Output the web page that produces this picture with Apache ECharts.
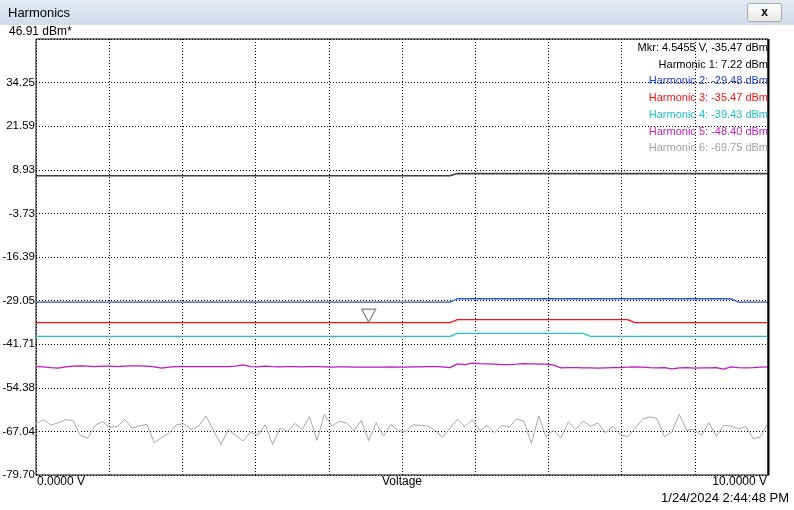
<!DOCTYPE html>
<html><head><meta charset="utf-8">
<script src="https://cdn.jsdelivr.net/npm/echarts@6/dist/echarts.min.js"></script>
<style>html,body{margin:0;padding:0;background:#fff}#c{width:794px;height:510px}</style>
</head><body><div id="c"></div><script>
// ---- data ----
const yTickLabels = ['-79.70','-67.04','-54.38','-41.71','-29.05','-16.39','-3.73','8.93','21.59','34.25','46.91 dBm*'];
const xTickLabels = ['0.0000 V', '10.0000 V'];
const xAxisName = 'Voltage';
const windowTitle = 'Harmonics';
const timestamp = '1/24/2024 2:44:48 PM';
const legendTexts = ['Mkr: 4.5455 V, -35.47 dBm','Harmonic 1: 7.22 dBm','Harmonic 2: -29.48 dBm','Harmonic 3: -35.47 dBm','Harmonic 4: -39.43 dBm','Harmonic 5: -48.40 dBm','Harmonic 6: -69.75 dBm'];
const markerIndex = 45;
// sweep: 100 points from 0 to 10 V
const voltages = [];
for (let i = 0; i < 100; i++) voltages.push(+(i * 10 / 99).toFixed(4));

const harmonic1 = [
 7.22,7.22,7.22,7.22,7.22,7.22,7.22,7.22,7.22,7.22,
 7.22,7.22,7.22,7.22,7.22,7.22,7.22,7.22,7.22,7.22,
 7.22,7.22,7.22,7.22,7.22,7.22,7.22,7.22,7.22,7.22,
 7.22,7.22,7.22,7.22,7.22,7.22,7.22,7.22,7.22,7.22,
 7.22,7.22,7.22,7.22,7.22,7.22,7.22,7.22,7.22,7.22,
 7.22,7.22,7.22,7.22,7.22,7.22,7.22,7.83,7.83,7.83,
 7.83,7.83,7.83,7.83,7.83,7.83,7.83,7.83,7.83,7.83,
 7.83,7.83,7.83,7.83,7.83,7.83,7.83,7.83,7.83,7.83,
 7.83,7.83,7.83,7.83,7.83,7.83,7.83,7.83,7.83,7.83,
 7.83,7.83,7.83,7.83,7.83,7.83,7.83,7.83,7.83,7.83];
const harmonic2 = [
 -29.48,-29.48,-29.48,-29.48,-29.48,-29.48,-29.48,-29.48,-29.48,-29.48,
 -29.48,-29.48,-29.48,-29.48,-29.48,-29.48,-29.48,-29.48,-29.48,-29.48,
 -29.48,-29.48,-29.48,-29.48,-29.48,-29.48,-29.48,-29.48,-29.48,-29.48,
 -29.48,-29.48,-29.48,-29.48,-29.48,-29.48,-29.48,-29.48,-29.48,-29.48,
 -29.48,-29.48,-29.48,-29.48,-29.48,-29.48,-29.48,-29.48,-29.48,-29.48,
 -29.48,-29.48,-29.48,-29.48,-29.48,-29.48,-29.48,-28.52,-28.52,-28.52,
 -28.52,-28.52,-28.52,-28.52,-28.52,-28.52,-28.52,-28.52,-28.52,-28.52,
 -28.52,-28.52,-28.52,-28.52,-28.52,-28.52,-28.52,-28.52,-28.52,-28.52,
 -28.52,-28.52,-28.52,-28.52,-28.52,-28.52,-28.52,-28.52,-28.52,-28.52,
 -28.52,-28.52,-28.52,-28.52,-28.52,-29.48,-29.48,-29.48,-29.48,-29.48];
const harmonic3 = [
 -35.47,-35.47,-35.47,-35.47,-35.47,-35.47,-35.47,-35.47,-35.47,-35.47,
 -35.47,-35.47,-35.47,-35.47,-35.47,-35.47,-35.47,-35.47,-35.47,-35.47,
 -35.47,-35.47,-35.47,-35.47,-35.47,-35.47,-35.47,-35.47,-35.47,-35.47,
 -35.47,-35.47,-35.47,-35.47,-35.47,-35.47,-35.47,-35.47,-35.47,-35.47,
 -35.47,-35.47,-35.47,-35.47,-35.47,-35.47,-35.47,-35.47,-35.47,-35.47,
 -35.47,-35.47,-35.47,-35.47,-35.47,-35.47,-35.47,-34.60,-34.60,-34.60,
 -34.60,-34.60,-34.60,-34.60,-34.60,-34.60,-34.60,-34.60,-34.60,-34.60,
 -34.60,-34.60,-34.60,-34.60,-34.60,-34.60,-34.60,-34.60,-34.60,-34.60,
 -34.60,-35.47,-35.47,-35.47,-35.47,-35.47,-35.47,-35.47,-35.47,-35.47,
 -35.47,-35.47,-35.47,-35.47,-35.47,-35.47,-35.47,-35.47,-35.47,-35.47];
const harmonic4 = [
 -39.43,-39.43,-39.43,-39.43,-39.43,-39.43,-39.43,-39.43,-39.43,-39.43,
 -39.43,-39.43,-39.43,-39.43,-39.43,-39.43,-39.43,-39.43,-39.43,-39.43,
 -39.43,-39.43,-39.43,-39.43,-39.43,-39.43,-39.43,-39.43,-39.43,-39.43,
 -39.43,-39.43,-39.43,-39.43,-39.43,-39.43,-39.43,-39.43,-39.43,-39.43,
 -39.43,-39.43,-39.43,-39.43,-39.43,-39.43,-39.43,-39.43,-39.43,-39.43,
 -39.43,-39.43,-39.43,-39.43,-39.43,-39.43,-39.43,-38.56,-38.56,-38.56,
 -38.56,-38.56,-38.56,-38.56,-38.56,-38.56,-38.56,-38.56,-38.56,-38.56,
 -38.56,-38.56,-38.56,-38.56,-38.56,-39.43,-39.43,-39.43,-39.43,-39.43,
 -39.43,-39.43,-39.43,-39.43,-39.43,-39.43,-39.43,-39.43,-39.43,-39.43,
 -39.43,-39.43,-39.43,-39.43,-39.43,-39.43,-39.43,-39.43,-39.43,-39.43];
const harmonic5 = [
 -48.21,-48.30,-48.50,-48.69,-48.30,-48.11,-48.01,-48.11,-48.21,-48.11,
 -48.11,-48.21,-48.11,-48.01,-48.01,-48.11,-48.30,-48.69,-48.40,-48.21,
 -48.21,-48.21,-48.21,-48.21,-48.21,-48.21,-48.21,-48.11,-47.72,-48.21,
 -48.30,-48.11,-48.21,-48.30,-48.21,-48.21,-48.30,-48.21,-48.21,-48.30,
 -48.40,-48.30,-48.30,-48.40,-48.40,-48.40,-48.40,-48.40,-48.30,-48.40,
 -48.40,-48.30,-48.30,-48.21,-48.21,-48.30,-48.50,-47.43,-47.63,-47.24,
 -47.34,-47.43,-47.53,-47.63,-47.63,-47.53,-47.34,-47.43,-47.53,-47.53,
 -47.82,-48.59,-48.50,-48.50,-48.59,-48.59,-48.69,-48.59,-48.50,-48.50,
 -48.40,-48.30,-48.40,-48.50,-48.59,-48.50,-48.88,-48.59,-48.50,-48.69,
 -48.59,-48.59,-48.50,-48.98,-48.30,-48.50,-48.59,-48.50,-48.40,-48.30];
const harmonic6 = [
 -64.81,-63.65,-65.20,-64.52,-63.65,-63.85,-68.20,-68.98,-65.30,-64.14,
 -65.88,-65.59,-63.56,-66.07,-65.49,-65.01,-70.33,-68.78,-67.62,-65.10,
 -64.81,-66.46,-65.49,-62.59,-66.75,-70.91,-66.46,-68.20,-69.85,-67.23,
 -68.20,-65.10,-70.82,-66.07,-67.04,-64.72,-66.46,-62.78,-69.65,-62.10,
 -65.49,-64.14,-64.62,-66.94,-63.85,-69.75,-64.52,-68.40,-65.01,-66.85,
 -67.04,-65.10,-65.30,-65.49,-66.75,-68.78,-66.07,-63.56,-65.69,-63.56,
 -66.85,-65.30,-67.43,-65.30,-65.78,-63.36,-64.14,-70.53,-62.59,-68.59,
 -66.65,-68.88,-64.33,-66.46,-64.04,-65.49,-64.62,-67.43,-65.59,-67.91,
 -68.59,-66.27,-63.56,-62.78,-63.36,-68.59,-67.23,-62.10,-66.65,-66.46,
 -68.20,-64.52,-68.40,-65.30,-65.49,-66.27,-65.59,-69.17,-68.59,-64.52];

const seriesDefs = [
  {name:'Harmonic 1', data:harmonic1, color:'#404040', width:1.6},
  {name:'Harmonic 2', data:harmonic2, color:'#2a55cc', width:1.3},
  {name:'Harmonic 3', data:harmonic3, color:'#ff1010', width:1.3},
  {name:'Harmonic 4', data:harmonic4, color:'#20c4c8', width:1.3},
  {name:'Harmonic 5', data:harmonic5, color:'#c018c0', width:1.3},
  {name:'Harmonic 6', data:harmonic6, color:'#a8a8a8', width:1}
];
const legendColors = ['#000000','#000000','#2040d0','#ff1010','#20c0c8','#c020c0','#a0a0a0'];

const FONT = '"Liberation Sans", Arial, sans-serif';
const chart = echarts.init(document.getElementById('c'), null, {renderer:'canvas'});

const series = seriesDefs.map(s => ({
  type:'line', name:s.name, xAxisIndex:0, yAxisIndex:1, silent:true,
  symbol:'none', animation:false,
  lineStyle:{color:s.color, width:s.width},
  data: s.data.map((v,i)=>[voltages[i], v])
}));
series[2].markPoint = {
  symbol:'triangle', symbolRotate:180, symbolSize:[14,13], symbolOffset:[0,-7],
  itemStyle:{color:'#ffffff', borderColor:'#808080', borderWidth:1.2},
  label:{show:false}, silent:true,
  data:[{coord:[voltages[markerIndex], harmonic3[markerIndex]]}]
};

const graphics = [
  {type:'rect', left:0, top:0, shape:{x:0,y:0,width:794,height:25},
   style:{fill:new echarts.graphic.LinearGradient(0,0,0,1,[{offset:0,color:'#e4eaf4'},{offset:1,color:'#d2dbea'}])}, silent:true},
  {type:'text', x:8, y:13, style:{text:windowTitle, font:'13px '+FONT, fill:'#000', textVerticalAlign:'middle'}},
  {type:'rect', shape:{x:747.5,y:3.5,width:34,height:18,r:2},
   style:{fill:new echarts.graphic.LinearGradient(0,0,0,1,[{offset:0,color:'#ffffff'},{offset:1,color:'#e8e8e8'}]), stroke:'#a7a7a7', lineWidth:1}},
  {type:'text', x:764.5, y:12.5, style:{text:'x', font:'bold 12px '+FONT, fill:'#000', textAlign:'center', textVerticalAlign:'middle'}},
  {type:'text', x:9, y:32, style:{text:yTickLabels[yTickLabels.length-1], font:'12px '+FONT, fill:'#000', textVerticalAlign:'middle'}},
  {type:'text', x:37, y:482, style:{text:xTickLabels[0], font:'12px '+FONT, fill:'#000', textVerticalAlign:'middle'}},
  {type:'text', x:767, y:482, style:{text:xTickLabels[1], font:'12px '+FONT, fill:'#000', textAlign:'right', textVerticalAlign:'middle'}},
  {type:'text', x:402, y:482, style:{text:xAxisName, font:'12px '+FONT, fill:'#000', textAlign:'center', textVerticalAlign:'middle'}},
  {type:'text', x:789, y:498, style:{text:timestamp, font:'13px '+FONT, fill:'#000', textAlign:'right', textVerticalAlign:'middle'}},
  {type:'line', z:50, shape:{x1:768.5, y1:39, x2:768.5, y2:475.5}, style:{stroke:'#000', lineWidth:2}}
];
const legendY = [48, 64.5, 81, 98, 115, 131.5, 148];
legendTexts.forEach((t,i)=>{
  graphics.push({type:'text', x:768, y:legendY[i], z:100,
    style:{text:t, font:'11px '+FONT, fill:legendColors[i], textAlign:'right', textVerticalAlign:'middle'}});
});

chart.setOption({
  animation:false,
  backgroundColor:'#ffffff',
  grid:{left:36, top:39, width:732, height:436, show:true, borderColor:'#000', borderWidth:1,
        backgroundColor:'transparent', containLabel:false, outerBoundsMode:'none'},
  xAxis:[{type:'value', min:0, max:10, interval:1,
    axisLine:{show:false}, axisTick:{show:false}, axisLabel:{show:false},
    splitLine:{show:true, lineStyle:{color:'#000', type:[1,2], width:1}}}],
  yAxis:[
    {type:'value', min:0, max:10, interval:1,
     axisLine:{show:false}, axisTick:{show:false},
     axisLabel:{show:true, margin:1, color:'#000', fontFamily:'Liberation Sans', fontSize:11.5,
       formatter:(v)=>{const i=Math.round(v); return i>=yTickLabels.length-1 ? '' : yTickLabels[i];}},
     splitLine:{show:true, lineStyle:{color:'#000', type:[1,2], width:1}}},
    {type:'value', min:-79.70, max:46.91, show:false, splitLine:{show:false}}
  ],
  series: series,
  graphic: graphics
});
</script></body></html>
